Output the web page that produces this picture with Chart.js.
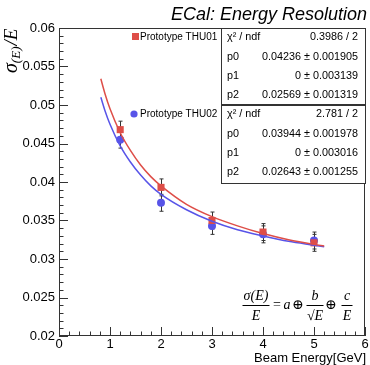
<!DOCTYPE html>
<html>
<head>
<meta charset="utf-8">
<script src="https://cdn.jsdelivr.net/npm/chart.js@4/dist/chart.umd.min.js"></script>
<style>
  html, body { margin: 0; padding: 0; background: #fff; }
  #wrap { width: 370px; height: 365px; }
</style>
</head>
<body>
<div id="wrap"><canvas id="chart" width="370" height="365"></canvas></div>
<script>
// measured points (beam energy in GeV)
const energies = [1.2, 2, 3, 4, 5];
const thu01Res = [0.0468, 0.0393, 0.0350, 0.0335, 0.0321];
const thu01Err = [0.0011, 0.0011, 0.0011, 0.0011, 0.0011];
const thu02Res = [0.0455, 0.0373, 0.0343, 0.0332, 0.0324];
const thu02Err = [0.0011, 0.0011, 0.0011, 0.0011, 0.0011];

// fit curves
const fitEnergy = [0.82, 0.9, 1.0, 1.2, 1.4, 1.6, 1.8, 2.0, 2.5, 3.0, 3.5, 4.0, 4.5, 5.0, 5.2];
const fit01 = [0.0534, 0.0515, 0.0495, 0.0464, 0.0441, 0.0422, 0.0407, 0.0395, 0.0371, 0.0355, 0.0343, 0.0333, 0.0325, 0.0319, 0.0317];
const fit02 = [0.0510, 0.0493, 0.0475, 0.0447, 0.0426, 0.0409, 0.0395, 0.0384, 0.0364, 0.0349, 0.0338, 0.0330, 0.0323, 0.0318, 0.0316];

const xTicks = [0, 1, 2, 3, 4, 5, 6];
const xTickLabels = ['0', '1', '2', '3', '4', '5', '6'];
const yTicks = [0.02, 0.025, 0.03, 0.035, 0.04, 0.045, 0.05, 0.055, 0.06];
const yTickLabels = ['0.02', '0.025', '0.03', '0.035', '0.04', '0.045', '0.05', '0.055', '0.06'];

const seriesNames = ['Prototype THU01', 'Prototype THU02'];
const stats01 = [['χ² / ndf', '0.3986 / 2'], ['p0', '0.04236 ± 0.001905'], ['p1', '0 ± 0.003139'], ['p2', '0.02569 ± 0.001319']];
const stats02 = [['χ² / ndf', '2.781 / 2'], ['p0', '0.03944 ± 0.001978'], ['p1', '0 ± 0.003016'], ['p2', '0.02643 ± 0.001255']];

const RED = 'rgb(222, 78, 72)';
const BLUE = 'rgb(88, 84, 232)';
const SANS = '"Liberation Sans", Arial, sans-serif';
const SERIF = '"Liberation Serif", "DejaVu Serif", serif';

const pts = (xs, ys) => xs.map((x, i) => ({ x: x, y: ys[i] }));

// frame, inward ticks, error bars, legend, stat boxes, formula
const rootStyle = {
  id: 'rootStyle',
  beforeDatasetsDraw(chart) {
    const ctx = chart.ctx;
    const xs = chart.scales.x, ys = chart.scales.y;
    ctx.save();
    ctx.strokeStyle = '#333';
    ctx.lineWidth = 1;
    [[thu01Res, thu01Err], [thu02Res, thu02Err]].forEach(([vals, errs]) => {
      energies.forEach((e, i) => {
        const px = Math.round(xs.getPixelForValue(e)) + 0.5;
        const top = ys.getPixelForValue(vals[i] + errs[i]);
        const bot = ys.getPixelForValue(vals[i] - errs[i]);
        ctx.beginPath();
        ctx.moveTo(px, top); ctx.lineTo(px, bot);
        ctx.moveTo(px - 2, top); ctx.lineTo(px + 2, top);
        ctx.moveTo(px - 2, bot); ctx.lineTo(px + 2, bot);
        ctx.stroke();
      });
    });
    ctx.restore();
  },
  afterDraw(chart) {
    const ctx = chart.ctx;
    const a = chart.chartArea;
    const xs = chart.scales.x, ys = chart.scales.y;
    ctx.save();

    // frame
    ctx.strokeStyle = '#333';
    ctx.lineWidth = 1;
    ctx.strokeRect(a.left + 0.5, a.top + 0.5, a.right - a.left - 1, a.bottom - a.top - 1);

    // ticks
    ctx.beginPath();
    for (let i = 0; i <= 30; i++) {
      const px = Math.round(xs.getPixelForValue(i / 5)) + 0.5;
      const len = i % 5 === 0 ? 9 : 4.5;
      ctx.moveTo(px, a.bottom); ctx.lineTo(px, a.bottom - len);
    }
    for (let i = 0; i <= 40; i++) {
      const py = Math.round(ys.getPixelForValue(0.02 + i * 0.001)) + 0.5;
      const len = i % 5 === 0 ? 9 : 4.5;
      ctx.moveTo(a.left, py); ctx.lineTo(a.left + len, py);
    }
    ctx.stroke();

    // title
    ctx.fillStyle = '#000';
    ctx.font = 'italic 18px ' + SANS;
    ctx.textAlign = 'right';
    ctx.textBaseline = 'middle';
    ctx.fillText('ECal: Energy Resolution', 367, 15);

    // x axis title
    ctx.font = '13px ' + SANS;
    ctx.fillText('Beam Energy[GeV]', 366, 358);

    // y axis title
    ctx.save();
    ctx.translate(12, 73);
    ctx.rotate(-Math.PI / 2);
    ctx.textAlign = 'left';
    ctx.font = 'italic 20px ' + SERIF;
    ctx.fillText('σ', 0, 0);
    let w = ctx.measureText('σ').width;
    ctx.font = 'italic 13px ' + SERIF;
    ctx.fillText('(E)', w, 5);
    w += ctx.measureText('(E)').width + 1;
    ctx.font = 'italic 19px ' + SERIF;
    ctx.fillText('/E', w, 0);
    ctx.restore();

    // legend
    ctx.font = '10px ' + SANS;
    ctx.textAlign = 'left';
    ctx.fillStyle = RED;
    ctx.fillRect(132, 33, 7, 7);
    ctx.fillStyle = BLUE;
    ctx.beginPath(); ctx.arc(134, 114, 3.6, 0, Math.PI * 2); ctx.fill();
    ctx.fillStyle = '#000';
    ctx.fillText(seriesNames[0], 140, 37);
    ctx.fillText(seriesNames[1], 140, 114);

    // stat boxes
    ctx.font = '10.8px ' + SANS;
    const drawStats = (rows, top, bottom) => {
      ctx.fillStyle = '#fff';
      ctx.fillRect(221, top, 145, bottom - top);
      ctx.strokeStyle = '#333';
      ctx.strokeRect(221.5, top + 0.5, 144, bottom - top);
      ctx.fillStyle = '#000';
      rows.forEach((r, i) => {
        const y = top + 9.5 + i * 19.3;
        ctx.textAlign = 'left';
        ctx.fillText(r[0], 227, y);
        ctx.textAlign = 'right';
        ctx.fillText(r[1], 358, y);
      });
    };
    drawStats(stats01, 28, 104);
    drawStats(stats02, 105, 183);

    // formula
    ctx.fillStyle = '#000';
    ctx.strokeStyle = '#000';
    ctx.textAlign = 'center';
    const frac = (num, den, cx, w) => {
      ctx.fillText(num, cx, 296);
      ctx.fillText(den, cx, 316);
      ctx.beginPath();
      ctx.moveTo(cx - w / 2, 305.5); ctx.lineTo(cx + w / 2, 305.5);
      ctx.stroke();
    };
    ctx.font = 'italic 14px ' + SERIF;
    frac('σ(E)', 'E', 256, 27);
    frac('b', '√E', 315, 17);
    frac('c', 'E', 347, 11);
    ctx.font = '14px ' + SERIF;
    ctx.fillText('=', 277, 305);
    ctx.font = 'italic 14px ' + SERIF;
    ctx.fillText('a', 287, 305);
    ctx.font = '14px ' + SERIF;
    ctx.fillText('⊕', 298, 305);
    ctx.fillText('⊕', 331, 305);

    ctx.restore();
  }
};

new Chart(document.getElementById('chart'), {
  type: 'scatter',
  data: {
    datasets: [
      {
        label: seriesNames[0] + ' fit',
        data: pts(fitEnergy, fit01),
        showLine: true,
        borderColor: RED,
        borderWidth: 1.5,
        pointRadius: 0,
        cubicInterpolationMode: 'monotone'
      },
      {
        label: seriesNames[1] + ' fit',
        data: pts(fitEnergy, fit02),
        showLine: true,
        borderColor: BLUE,
        borderWidth: 1.5,
        pointRadius: 0,
        cubicInterpolationMode: 'monotone'
      },
      {
        label: seriesNames[0],
        data: pts(energies, thu01Res),
        pointStyle: 'rect',
        pointRadius: 5,
        backgroundColor: RED,
        borderWidth: 0
      },
      {
        label: seriesNames[1],
        data: pts(energies, thu02Res),
        pointStyle: 'circle',
        pointRadius: 4,
        backgroundColor: BLUE,
        borderWidth: 0
      }
    ]
  },
  options: {
    responsive: false,
    animation: false,
    layout: { padding: { top: 28, right: 5, left: 0, bottom: 0 } },
    plugins: { legend: { display: false }, tooltip: { enabled: false } },
    scales: {
      x: {
        type: 'linear',
        min: 0, max: 6,
        grid: { display: false, drawTicks: false },
        border: { display: false },
        afterBuildTicks: s => { s.ticks = xTicks.map(v => ({ value: v })); },
        afterFit: s => { s.height = 29; },
        ticks: {
          padding: 1,
          color: '#000',
          font: { family: SANS, size: 13 },
          maxRotation: 0,
          callback: (v, i) => xTickLabels[i]
        }
      },
      y: {
        type: 'linear',
        min: 0.02, max: 0.06,
        grid: { display: false, drawTicks: false },
        border: { display: false },
        afterBuildTicks: s => { s.ticks = yTicks.map(v => ({ value: v })); },
        afterFit: s => { s.width = 59; },
        ticks: {
          padding: 4,
          color: '#000',
          font: { family: SANS, size: 13 },
          callback: (v, i) => yTickLabels[i]
        }
      }
    }
  },
  plugins: [rootStyle]
});
</script>
</body>
</html>
